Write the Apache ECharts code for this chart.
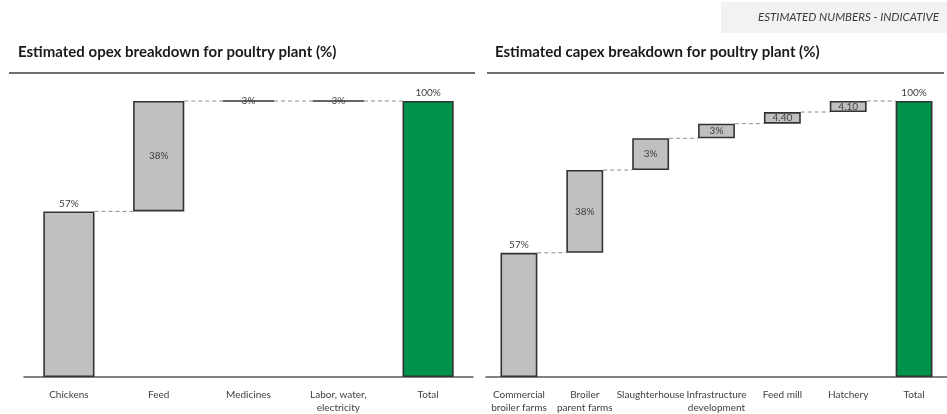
<!DOCTYPE html>
<html>
<head>
<meta charset="utf-8">
<script src="https://cdn.jsdelivr.net/npm/echarts@6/dist/echarts.min.js"></script>
<style>
  html, body { margin: 0; padding: 0; background: #fff; }
  #chart { width: 947px; height: 414px; }
</style>
</head>
<body>
<div id="chart"></div>
<script>
// opex waterfall (left)
var opexCategories = ['Chickens', 'Feed', 'Medicines', 'Labor, water,\nelectricity', 'Total'];
var opexValues = [60, 40, 0, 0];
var opexTotal = 100;
var opexLabels = ['57%', '38%', '3%', '3%', '100%'];
var opexLabelPos = ['top', 'inside', 'inside', 'inside', 'top'];

// capex waterfall (right)
var capexCategories = ['Commercial\nbroiler farms', 'Broiler\nparent farms', 'Slaughterhouse',
  'Infrastructure\ndevelopment', 'Feed mill', 'Hatchery', 'Total'];
var capexValues = [45, 30, 11.5, 5.3, 4.2, 4.0];
var capexTotal = 100;
var capexLabels = ['57%', '38%', '3%', '3%', '4.40', '4.10', '100%'];
var capexLabelPos = ['top', 'inside', 'inside', 'inside', 'inside', 'inside', 'top'];

var GREY = '#c0c0c0';
var GREEN = '#00914a';
var EDGE = '#333333';
var TXT = '#404040';
var FONT = 'Lato, "Liberation Sans", sans-serif';

function buildWaterfall(values, total, labels, labelPos, axisIdx, barRatio) {
  var base = [], steps = [], links = [];
  var run = 0;
  values.forEach(function (v, i) {
    base.push(run);
    run += v;
    links.push([i, run]);
    steps.push({
      value: v,
      itemStyle: { color: GREY },
      label: { formatter: labels[i], position: labelPos[i] }
    });
  });
  base.push(0);
  steps.push({
    value: total,
    itemStyle: { color: GREEN },
    label: { formatter: labels[values.length], position: labelPos[values.length] }
  });
  var stackName = 'wf' + axisIdx;
  return [
    {
      type: 'bar', stack: stackName, xAxisIndex: axisIdx, yAxisIndex: axisIdx,
      data: base, barWidth: (barRatio * 100) + '%', silent: true,
      itemStyle: { color: 'transparent', borderWidth: 0 }
    },
    {
      type: 'bar', stack: stackName, xAxisIndex: axisIdx, yAxisIndex: axisIdx,
      data: steps, barWidth: (barRatio * 100) + '%',
      itemStyle: { borderColor: EDGE, borderWidth: 1.6 },
      label: { show: true, fontSize: 10, color: TXT, fontFamily: FONT, distance: 3 }
    },
    {
      type: 'custom', xAxisIndex: axisIdx, yAxisIndex: axisIdx, z: 1,
      data: links,
      renderItem: function (params, api) {
        var i = api.value(0), lvl = api.value(1);
        var a = api.coord([i, lvl]);
        var b = api.coord([i + 1, lvl]);
        var half = api.size([1, 0])[0] * barRatio / 2;
        return {
          type: 'line',
          shape: { x1: a[0] + half, y1: a[1], x2: b[0] - half, y2: b[1] },
          style: { stroke: '#8c8c8c', lineWidth: 1, lineDash: [4, 3] }
        };
      }
    }
  ];
}

var chart = echarts.init(document.getElementById('chart'), null, { renderer: 'canvas' });

var axisCommon = {
  type: 'category',
  axisTick: { show: false },
  axisLine: { lineStyle: { color: '#595959', width: 1.6 } },
  axisLabel: { fontSize: 10, color: TXT, fontFamily: FONT, margin: 11, lineHeight: 13, interval: 0 }
};

chart.setOption({
  animation: false,
  textStyle: { fontFamily: FONT },
  graphic: [
    { type: 'rect', shape: { x: 721, y: 2, width: 226, height: 31 }, style: { fill: '#f2f2f2' } },
    { type: 'text', right: 8, top: 11,
      style: { text: 'ESTIMATED NUMBERS - INDICATIVE', fill: '#3a3a3a', font: 'italic 11.5px ' + FONT } },
    { type: 'text', left: 18, top: 45,
      style: { text: 'Estimated opex breakdown for poultry plant (%)', fill: '#1a1a1a', font: 'bold 15px ' + FONT } },
    { type: 'text', left: 495, top: 45,
      style: { text: 'Estimated capex breakdown for poultry plant (%)', fill: '#1a1a1a', font: 'bold 15px ' + FONT } },
    { type: 'line', shape: { x1: 9, y1: 73, x2: 475, y2: 73 }, style: { stroke: '#404040', lineWidth: 1.5 } },
    { type: 'line', shape: { x1: 487, y1: 73, x2: 944, y2: 73 }, style: { stroke: '#404040', lineWidth: 1.5 } }
  ],
  grid: [
    { left: 24, top: 101, width: 449, height: 276 },
    { left: 486, top: 101, width: 465, height: 276 }
  ],
  xAxis: [
    Object.assign({ gridIndex: 0, data: opexCategories }, axisCommon),
    Object.assign({ gridIndex: 1, data: capexCategories }, axisCommon)
  ],
  yAxis: [
    { gridIndex: 0, type: 'value', min: 0, max: 100, show: false },
    { gridIndex: 1, type: 'value', min: 0, max: 100, show: false }
  ],
  series: buildWaterfall(opexValues, opexTotal, opexLabels, opexLabelPos, 0, 0.57)
    .concat(buildWaterfall(capexValues, capexTotal, capexLabels, capexLabelPos, 1, 0.56))
});
</script>
</body>
</html>
